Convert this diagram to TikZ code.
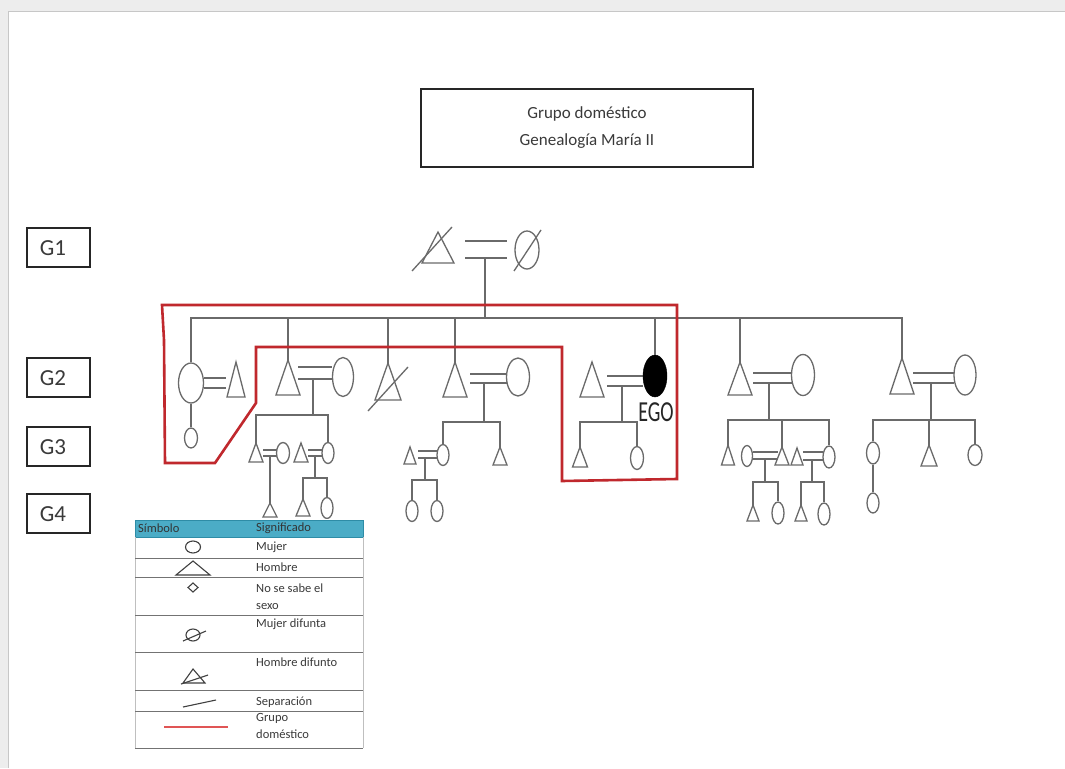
\documentclass[tikz,border=0pt]{standalone}
\usepackage{fontspec}
\setmainfont{Carlito}
\usetikzlibrary{shapes.geometric}
\definecolor{ln}{HTML}{6A6A6A}
\definecolor{rd}{HTML}{C0282D}
\definecolor{rdl}{HTML}{E05555}
\definecolor{hd}{HTML}{4BACC6}
\definecolor{hdb}{HTML}{2E8CA6}
\definecolor{tx}{HTML}{3A3A3A}
\newcommand\Fem[5]{\node[fembox, minimum width=#4pt, minimum height=#5pt] (#1) at (#2,#3) {};}
\newcommand\Tri[5]{\coordinate (#1) at (#2,#3);
  \draw[sym, line join=miter] (#1) -- ++(-#4,#5-#3) -- ++(2*#4,0) -- cycle;}
\newcommand\Eq[4]{\draw[sym] (#1,#3) -- (#2,#3) (#1,#4) -- (#2,#4);}
\begin{document}
\begin{tikzpicture}[x=1pt,y=-1pt,
  sym/.style={draw=ln, line width=1.3pt},
  con/.style={draw=ln, line width=1.3pt},
  fembox/.style={ellipse, draw=ln, line width=1.3pt, inner sep=0pt},
  gbox/.style={draw=black!85, line width=2pt, minimum width=63pt, minimum height=39pt},
  glbl/.style={text=tx, inner sep=0pt, font=\fontsize{23}{23}\selectfont},
  lgt/.style={anchor=west, text=tx, inner sep=0pt, font=\fontsize{12.5}{16.5}\selectfont, align=left},
  lsym/.style={draw=black!75, line width=1.1pt}]
\useasboundingbox (0,0) rectangle (1065,768);
\fill[black!7] (0,0) rectangle (1065,768);
\fill[white] (8,11) rectangle (1065,768);
\draw[black!22, line width=0.8pt] (8,768) -- (8,11) -- (1065,11);

% title
\node[draw=black!85, line width=1.3pt, minimum width=332pt, minimum height=78pt, align=center, text=tx,
  font=\fontsize{17}{27}\selectfont] (title) at (587,128) {Grupo doméstico\\Genealogía María II};

% generation boxes
\node[gbox] (G1) at (58.5,247.5) {};
\node[gbox] (G2) at (58.5,377) {};
\node[gbox] (G3) at (58.5,446.5) {};
\node[gbox] (G4) at (58.5,513) {};
\node[glbl] (G1t) at (53,248) {G1};
\node[glbl] (G2t) at (53,378) {G2};
\node[glbl] (G3t) at (53,447.5) {G3};
\node[glbl] (G4t) at (53,514) {G4};

% generation 1
\Tri{g1m}{438}{232}{16}{263}
\draw[sym] (412,271) -- (452,227);
\Eq{465}{507}{241}{258}
\Fem{g1f}{527}{250}{24}{38}
\draw[sym] (514,271) -- (541,230);
\coordinate (m0) at (485,258);
\coordinate (sib) at (485,318);
\draw[con] (m0) -- (sib);

% A
\Fem{a}{191}{383}{25}{40}
\Eq{204}{226}{378}{388}
\Tri{ah}{236}{362}{9}{397}
\Fem{a1}{191}{438}{13}{20}
\draw[con] (a.north) |- (sib);
\draw[con] (a.south) -- (a1.north);

% B
\Tri{b}{288}{360}{12}{395}
\Eq{298}{332}{367}{379}
\Fem{bw}{343}{377}{21}{39}
\coordinate (mB) at (313,379); \coordinate (jB) at (313,415);
\draw[con] (b) |- (sib);
\draw[con] (mB) -- (jB);
\Tri{b1}{256}{443}{7}{462}
\Eq{263}{277}{450}{456}
\Fem{b1w}{283}{453}{13}{21}
\Tri{b2}{301}{443}{7}{462}
\Eq{308}{322}{450}{456}
\Fem{b2w}{328}{453}{12}{21}
\draw[con] (b1) |- (jB) -| (b2w.north);
\coordinate (mB1) at (270,456);
\Tri{b11}{270}{503}{7}{517}
\draw[con] (mB1) -- (b11);
\coordinate (mB2) at (315,456); \coordinate (jB2) at (315,478);
\Tri{b21}{303}{499}{7}{516}
\Fem{b22}{327}{508}{12}{21}
\draw[con] (mB2) -- (jB2);
\draw[con] (b21) |- (jB2) -| (b22.north);

% C
\Tri{c}{388}{363}{13}{400}
\draw[sym] (368,411) -- (408,367);
\draw[con] (c) |- (sib);

% D
\Tri{d}{455}{362}{12}{397}
\Eq{470}{507}{374}{383}
\Fem{dw}{518}{377}{23}{38}
\coordinate (mD) at (484,383); \coordinate (jD) at (484,422);
\draw[con] (d) |- (sib);
\draw[con] (mD) -- (jD);
\Tri{d1h}{410}{447}{6}{464}
\Eq{418}{437}{451}{458}
\Fem{d1}{443}{455}{12}{21}
\Tri{d2}{500}{447}{7}{465}
\draw[con] (d1.north) |- (jD) -| (d2);
\coordinate (mD1) at (425,458); \coordinate (jD1) at (425,480);
\Fem{d11}{412}{511}{12}{21}
\Fem{d12}{437}{511}{12}{21}
\draw[con] (mD1) -- (jD1);
\draw[con] (d11.north) |- (jD1) -| (d12.north);

% E (EGO)
\Tri{eh}{592}{362}{12}{397}
\Eq{607}{643}{376}{386}
\node[ellipse, fill=black, draw=black, inner sep=0pt, minimum width=24pt, minimum height=42pt] (ego) at (655,376) {};
\node[text=black!85, inner sep=0pt] (egolbl) at (656,412) {\fontsize{20}{20}\selectfont\scalebox{1}[1.45]{EGO}};
\draw[con] (ego.north) |- (sib);
\coordinate (mE) at (622,386); \coordinate (jE) at (622,422);
\Tri{e1}{580}{447}{7.5}{467}
\Fem{e2}{637}{458}{13}{23}
\draw[con] (mE) -- (jE);
\draw[con] (e1) |- (jE) -| (e2.north);

% F
\Tri{f}{740}{362}{12}{395}
\Eq{753}{792}{373}{383}
\Fem{fw}{803}{375}{23}{41}
\coordinate (mF) at (769,383); \coordinate (jF) at (769,420);
\draw[con] (f) |- (sib);
\draw[con] (mF) -- (jF);
\Tri{f1}{728}{445}{6.5}{465}
\Fem{f2w}{747}{456}{11}{21}
\Eq{753}{778}{452}{459}
\Tri{f2}{782}{447}{7}{465}
\Tri{f3h}{797}{448}{6}{465}
\Eq{803}{823}{452}{460}
\Fem{f3}{829}{457}{12}{22}
\draw[con] (f1) |- (jF) -| (f3.north);
\draw[con] (f2) -- (f2 |- jF);
\coordinate (mF2) at (765,459); \coordinate (jF2) at (765,482);
\Tri{f21}{753}{505}{6}{521}
\Fem{f22}{778}{513}{12}{22}
\draw[con] (mF2) -- (jF2);
\draw[con] (f21) |- (jF2) -| (f22.north);
\coordinate (mF3) at (812,460); \coordinate (jF3) at (812,482);
\Tri{f31}{801}{505}{6}{521}
\Fem{f32}{824}{514}{12}{22}
\draw[con] (mF3) -- (jF3);
\draw[con] (f31) |- (jF3) -| (f32.north);

% G
\Tri{g}{902}{358}{12}{394}
\Eq{913}{954}{373}{383}
\Fem{gw}{965}{375}{22}{40}
\draw[con] (g) |- (sib);
\coordinate (mG) at (931,383); \coordinate (jG) at (931,420);
\draw[con] (mG) -- (jG);
\Fem{g1}{873}{453}{13}{22}
\Tri{g2}{929}{445}{8}{466}
\Fem{g3}{975}{455}{14}{21}
\draw[con] (g1.north) |- (jG) -| (g3.north);
\draw[con] (g2) -- (g2 |- jG);
\Fem{g11}{873}{503}{12}{20}
\draw[con] (g1.south) -- (g11.north);

% domestic group outline
\draw[rd, line width=2.6pt, line join=miter] (162,305) -- (677,305) -- (677,479) -- (562,481) -- (562,347)
  -- (256,347) -- (256,403) -- (215,463) -- (165,463) -- (164,340) -- cycle;

% legend
\fill[white] (135,519) rectangle (363,749);
\fill[hd] (135,520) rectangle (363,537);
\draw[hdb, line width=0.8pt] (135,520) rectangle (363,537);
\draw[black!25, line width=0.6pt] (135,537) -- (135,748) (363,537) -- (363,748);
\foreach \yy in {558,577,615,652,690,711,748}
  \draw[black!55, line width=0.8pt] (135,\yy) -- (363,\yy);
\node[lgt, text=black!80] (lh1) at (138,528.5) {Símbolo};
\node[lgt, text=black!80] (lh2) at (256,528.5) {Significado};
\node[lgt] (l1) at (256,547) {Mujer};
\node[lgt] (l2) at (256,567) {Hombre};
\node[lgt] (l3) at (256,596.5) {No se sabe el\\sexo};
\node[lgt] (l4) at (256,624) {Mujer difunta};
\node[lgt] (l5) at (256,662) {Hombre difunto};
\node[lgt] (l6) at (256,702) {Separación};
\node[lgt] (l7) at (256,726) {Grupo\\doméstico};
\draw[lsym] (193,547) ellipse [x radius=7.5pt, y radius=6pt];
\draw[lsym, line join=miter] (193,561) -- (176,575) -- (210,575) -- cycle;
\draw[lsym] (193,583) -- (198,587.5) -- (193,592) -- (188,587.5) -- cycle;
\draw[lsym] (193,635) ellipse [x radius=7pt, y radius=6pt];
\draw[lsym] (183,641) -- (206,631);
\draw[lsym, line join=miter] (193,669) -- (183,683) -- (205,683) -- cycle;
\draw[lsym] (181,684) -- (208,675);
\draw[lsym] (183,707) -- (216,700);
\draw[rdl, line width=2.5pt] (164,727) -- (228,727);
\end{tikzpicture}
\end{document}
